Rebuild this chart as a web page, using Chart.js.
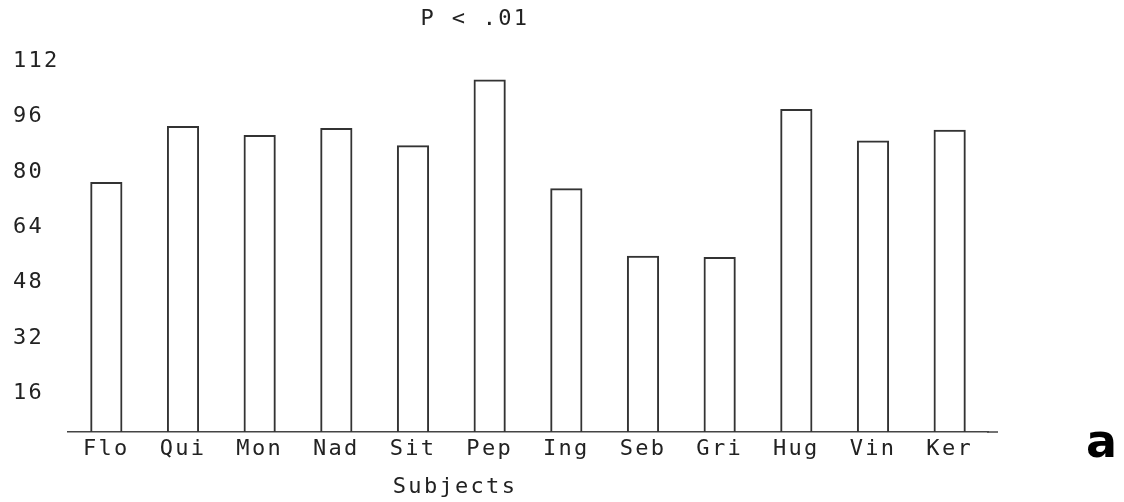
<!DOCTYPE html>
<html><head><meta charset="utf-8">
<script src="https://cdn.jsdelivr.net/npm/chart.js@4"></script>
<style>html,body{margin:0;padding:0;background:#fff}#wrap{width:1124px;height:502px;position:relative}</style>
</head><body><div id="wrap"><canvas id="c" width="1124" height="502"></canvas></div>
<script>
const categories = ['Flo','Qui','Mon','Nad','Sit','Pep','Ing','Seb','Gri','Hug','Vin','Ker'];
const values = [77.1, 93.3, 90.7, 92.7, 87.7, 106.7, 75.3, 55.8, 55.4, 98.2, 89.1, 92.2];
const yTickValues = [16, 32, 48, 64, 80, 96, 112];
const chartTitle = 'P < .01';
const xAxisTitle = 'Subjects';
const panelLabel = 'a';

const FONT = '"DejaVu Sans Mono", "Liberation Mono", monospace';
const FSIZE = 22;
const SPACING = '2.3px';

const textPlugin = {
  id: 'textPlugin',
  beforeLayout(chart) { chart.ctx.letterSpacing = SPACING; },
  beforeDraw(chart) { chart.ctx.letterSpacing = SPACING; },
  afterDraw(chart) {
    const ctx = chart.ctx, a = chart.chartArea;
    ctx.save();
    ctx.strokeStyle = '#444'; ctx.lineWidth = 1.5;
    ctx.beginPath(); ctx.moveTo(a.right - 1, a.bottom); ctx.lineTo(a.right + 10, a.bottom); ctx.stroke();
    ctx.fillStyle = '#222';
    ctx.font = FSIZE + 'px ' + FONT;
    ctx.textAlign = 'center'; ctx.textBaseline = 'middle';
    ctx.letterSpacing = SPACING;
    ctx.fillText(chartTitle, 475, 19);
    ctx.fillText(xAxisTitle, 455, 487);
    ctx.letterSpacing = '0px';
    ctx.font = 'bold 46px "DejaVu Sans", sans-serif';
    ctx.textAlign = 'left'; ctx.textBaseline = 'alphabetic'; ctx.fillStyle = '#000';
    ctx.fillText(panelLabel, 1086, 457);
    ctx.restore();
  }
};

new Chart(document.getElementById('c'), {
  type: 'bar',
  data: {
    labels: categories,
    datasets: [{
      data: values,
      backgroundColor: 'rgba(255,255,255,0)',
      borderColor: '#333',
      borderWidth: 2,
      barPercentage: 0.42,
      categoryPercentage: 1
    }]
  },
  options: {
    responsive: false,
    animation: false,
    devicePixelRatio: 1,
    layout: { padding: { left: 13, right: 136, top: 40, bottom: 0 } },
    plugins: { legend: { display: false }, tooltip: { enabled: false }, title: { display: false } },
    scales: {
      x: {
        grid: { display: false },
        border: { display: true, color: '#444', width: 1.5 },
        ticks: { color: '#222', font: { family: FONT, size: FSIZE }, padding: -4, maxRotation: 0, autoSkip: false },
        afterFit(s) { s.height = 70; }
      },
      y: {
        min: 4.9, max: 118.1,
        grid: { display: false },
        border: { display: false },
        ticks: { color: '#222', font: { family: FONT, size: FSIZE }, crossAlign: 'far' },
        afterBuildTicks(s) { s.ticks = yTickValues.map(v => ({ value: v })); },
        afterFit(s) { s.width = 55; }
      }
    }
  },
  plugins: [textPlugin]
});
</script>
</body></html>
